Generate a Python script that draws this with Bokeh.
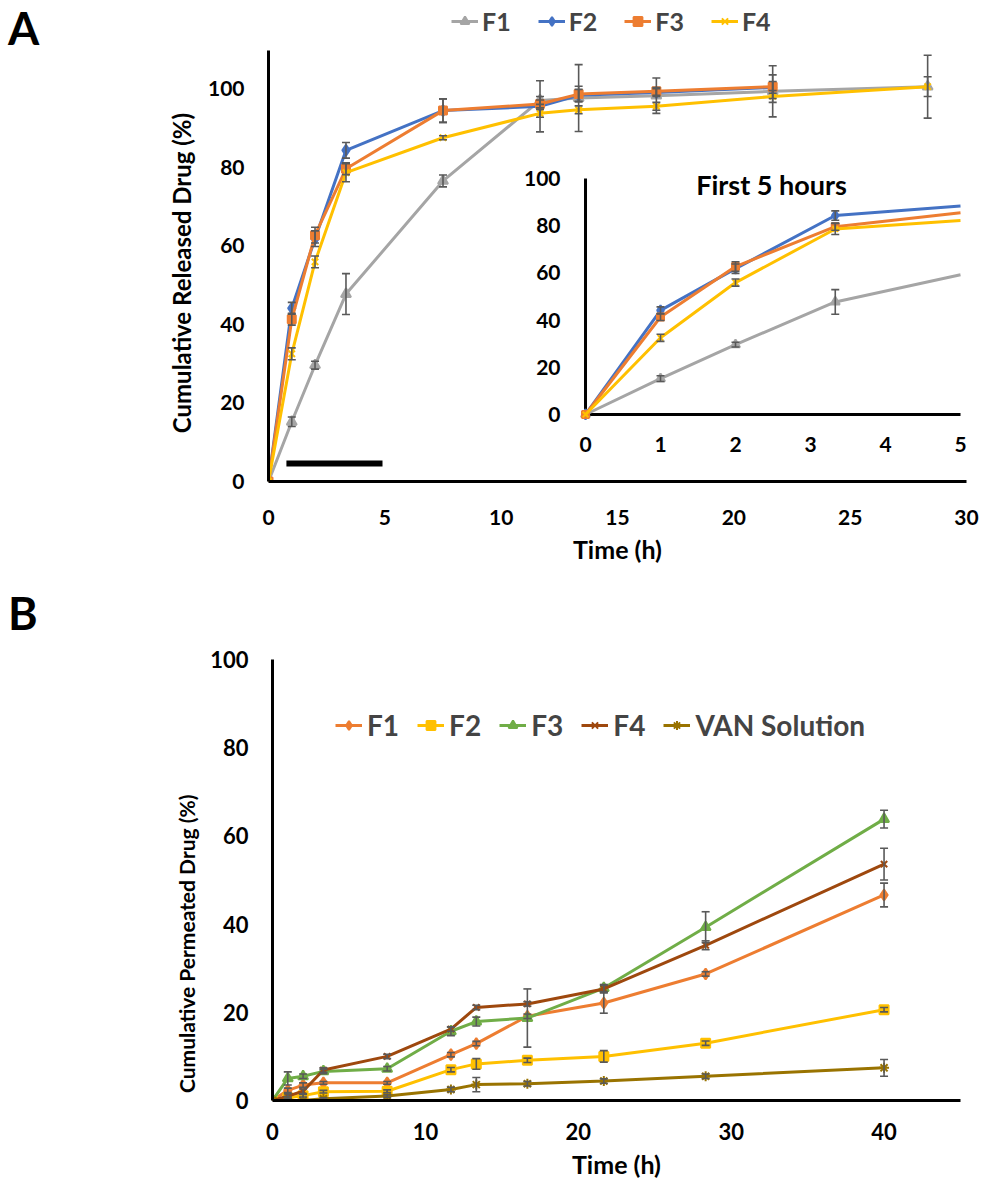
from bokeh.plotting import figure
from bokeh.models import Range1d, FixedTicker, Legend, LegendItem, Label, Div
from bokeh.layouts import column, row
from bokeh.embed import file_html
from bokeh.resources import INLINE
from bokeh.core.properties import value

FONT = "Lato"
NBSP = "\u00a0"

# ---------------- Panel A data (cumulative released drug, %) ----------------
time_A = [0, 1, 2, 3.33, 7.5, 11.67, 13.33, 16.67, 21.67, 28.33]
A_F1 = [0, 15.2, 29.6, 47.7, 76.5, 97.0, 97.6, 98.2, 99.3, 100.5]
A_F2 = [0, 44.1, 61.8, 84.3, 94.4, 95.5, 98.3, 99.0, 100.3]
A_F3 = [0, 41.3, 62.7, 79.6, 94.4, 96.1, 98.6, 99.3, 100.5]
A_F4 = [0, 32.5, 55.9, 78.6, 87.5, 93.7, 94.6, 95.5, 98.0, 100.5]
A_F1_err = [0, 1.2, 1.0, 5.2, 1.5, 1.0, 8.5, 4.5, 6.5, 2.5]
A_F2_err = [0, 1.5, 2.0, 2.0, 3.0, 6.5, 1.5, 1.0, 1.5]
A_F3_err = [0, 1.5, 2.0, 1.5, 3.0, 1.0, 2.0, 1.0, 3.0]
A_F4_err = [0, 1.5, 1.5, 2.3, 0.5, 1.0, 1.0, 1.0, 1.5, 8.0]
A_names = ["F1", "F2", "F3", "F4"]
A_xticks = [0, 5, 10, 15, 20, 25, 30]
A_yticks = [0, 20, 40, 60, 80, 100]
A_ymax = 109.7
inset_xticks = [0, 1, 2, 3, 4, 5]
inset_yticks = [0, 20, 40, 60, 80, 100]
zoom_bar_x = [0.77, 4.9]
zoom_bar_y = 4.6

# ---------------- Panel B data (cumulative permeated drug, %) ----------------
time_B = [0, 1, 2, 3.33, 7.5, 11.67, 13.33, 16.67, 21.67, 28.33, 40]
B_F1 = [0, 2.3, 3.5, 4.0, 4.0, 10.4, 12.9, 19.1, 22.1, 28.7, 46.6]
B_F2 = [0, 0.6, 1.1, 2.0, 2.1, 7.0, 8.3, 9.1, 10.0, 13.0, 20.6]
B_F3 = [0, 5.0, 5.5, 6.6, 7.2, 15.7, 17.9, 18.7, 25.5, 39.3, 63.8]
B_F4 = [0, 1.0, 2.1, 6.9, 10.0, 16.2, 21.1, 21.9, 25.3, 35.2, 53.6]
B_VAN = [0, 0, 0, 0.4, 1.0, 2.5, 3.6, 3.8, 4.4, 5.5, 7.4]
B_F1_err = [0, 0.5, 0.5, 0.3, 0.3, 0.5, 0.5, 0.5, 2.3, 0.5, 2.7]
B_F2_err = [0, 0.3, 0.3, 0.3, 0.3, 0.5, 1.2, 0.5, 1.3, 0.5, 0.5]
B_F3_err = [0, 1.5, 0.5, 0.5, 0.5, 1.0, 1.0, 6.6, 0.8, 3.5, 2.0]
B_F4_err = [0, 0.5, 0.5, 0.5, 0.5, 0.5, 0.5, 0.5, 0.8, 1.0, 3.6]
B_VAN_err = [0, 0.2, 0.2, 0.2, 0.3, 0.5, 1.6, 0.5, 0.5, 0.5, 1.9]
B_names = ["F1", "F2", "F3", "F4", "VAN Solution"]
B_xticks = [0, 10, 20, 30, 40]
B_yticks = [0, 20, 40, 60, 80, 100]

ERR = "#595959"


def style_axes(p, tick_size, title_size, tick_standoff_x, tick_standoff_y, title_standoff):
    for ax in (p.xaxis[0], p.yaxis[0]):
        ax.axis_line_width = 3
        ax.axis_line_color = "black"
        ax.major_tick_line_color = None
        ax.minor_tick_line_color = None
        ax.major_tick_out = 0
        ax.major_tick_in = 0
        ax.major_label_text_font = FONT
        ax.major_label_text_font_style = "bold"
        ax.major_label_text_font_size = tick_size
        ax.major_label_text_color = "black"
        ax.axis_label_text_font = FONT
        ax.axis_label_text_font_style = "bold"
        ax.axis_label_text_font_size = title_size
        ax.axis_label_text_color = "black"
        ax.axis_label_standoff = title_standoff
    p.xaxis[0].major_label_standoff = tick_standoff_x
    p.yaxis[0].major_label_standoff = tick_standoff_y
    p.xgrid.visible = False
    p.ygrid.visible = False
    p.outline_line_color = None


def draw_series(p, x, y, color, marker, size, xr="default", yr="default"):
    rl = p.line(x, y, line_color=color, line_width=3, x_range_name=xr, y_range_name=yr)
    rm = p.scatter(x, y, marker=marker, size=size, fill_color=color, line_color=color,
                   line_width=2, x_range_name=xr, y_range_name=yr)
    return [rl, rm]


def draw_err(p, x, y, err, xr="default", yr="default"):
    xs = [a for a, e in zip(x, err) if e > 0]
    lo = [b - e for b, e in zip(y, err) if e > 0]
    hi = [b + e for b, e in zip(y, err) if e > 0]
    p.segment(x0=xs, y0=lo, x1=xs, y1=hi, line_color=ERR, line_width=1.6,
              x_range_name=xr, y_range_name=yr)
    for ys in (lo, hi):
        p.scatter(xs, ys, marker="dash", size=8, line_color=ERR, line_width=1.6,
                  x_range_name=xr, y_range_name=yr)


def clip_to(x, y, xmax):
    xs, ys = [], []
    for i in range(len(x)):
        if x[i] <= xmax:
            xs.append(x[i]); ys.append(y[i])
        else:
            x0, y0 = x[i - 1], y[i - 1]
            f = (xmax - x0) / (x[i] - x0)
            xs.append(xmax); ys.append(y0 + f * (y[i] - y0))
            break
    return xs, ys


def panel_letter(letter, top):
    return Div(text=('<div style="font-family:Lato;font-weight:bold;font-size:45px;'
                     'line-height:54px;color:black;margin-top:%dpx;margin-left:8px;">%s</div>'
                     % (top, letter)),
               width=40, height=64, margin=(0, 0, 0, 0))


# ================= Panel A =================
A_frame_top_px = 50.0
A_frame_h = 481.0
A_yend = A_ymax * A_frame_h / (A_frame_h - A_frame_top_px)

pA = figure(width=946, height=579, output_backend="svg", toolbar_location=None,
            x_range=Range1d(0, 30), y_range=Range1d(0, A_yend),
            min_border_left=228, min_border_right=20, min_border_top=0, min_border_bottom=98,
            x_axis_label="Time (h)",
            y_axis_label="Cumulative Released Drug (%)" + NBSP * 11)
pA.xaxis.ticker = FixedTicker(ticks=A_xticks)
pA.yaxis.ticker = FixedTicker(ticks=A_yticks)
pA.yaxis.bounds = (0, A_ymax)
style_axes(pA, "21px", "24px", 28, 24, 9)
pA.xaxis.axis_label_text_font_size = "25px"
pA.xaxis.axis_label_standoff = 6

pA.extra_x_ranges = {"inset": Range1d(-4.227, 5.08)}
pA.extra_y_ranges = {"inset": Range1d(-28.39, 175.42)}

A_series = [
    (A_F1, A_F1_err, "#A5A5A5", "triangle", 10),
    (A_F2, A_F2_err, "#4472C4", "diamond", 11),
    (A_F3, A_F3_err, "#ED7D31", "square", 8),
    (A_F4, A_F4_err, "#FFC000", "x", 9),
]
A_items = []
for name, (ys, er, col, mk, sz) in zip(A_names, A_series):
    rs = draw_series(pA, time_A[:len(ys)], ys, col, mk, sz)
    A_items.append(LegendItem(label=name, renderers=rs))
for ys, er, col, mk, sz in A_series:
    draw_err(pA, time_A[:len(ys)], ys, er)

# indicator bar for the zoomed window
pA.line(zoom_bar_x, [zoom_bar_y, zoom_bar_y], line_color="black", line_width=6)

# inset (first 5 hours)
xmax_in = max(inset_xticks)
pA.segment(x0=[0, 0], y0=[0, 0], x1=[0, xmax_in], y1=[max(inset_yticks), 0],
           line_color="black", line_width=3, x_range_name="inset", y_range_name="inset")
for ys, er, col, mk, sz in A_series:
    xs_full = time_A[:len(ys)]
    cx, cy = clip_to(xs_full, ys, xmax_in)
    pA.line(cx, cy, line_color=col, line_width=3, x_range_name="inset", y_range_name="inset")
    px = [a for a in xs_full if a <= xmax_in]
    pA.scatter(px, ys[:len(px)], marker=mk, size=sz - 1, fill_color=col, line_color=col,
               line_width=2, x_range_name="inset", y_range_name="inset")
for ys, er, col, mk, sz in A_series:
    xs_full = time_A[:len(ys)]
    px = [a for a in xs_full if a <= xmax_in]
    draw_err(pA, px, ys[:len(px)], er[:len(px)], "inset", "inset")

pA.text(x=inset_xticks, y=[0] * len(inset_xticks), text=[str(t) for t in inset_xticks],
        text_align="center", text_baseline="middle", y_offset=30,
        text_font=value(FONT), text_font_style="bold", text_font_size="21px", text_color="black",
        x_range_name="inset", y_range_name="inset")
pA.text(x=[0] * len(inset_yticks), y=inset_yticks, text=[str(t) for t in inset_yticks],
        text_align="right", text_baseline="middle", x_offset=-25,
        text_font=value(FONT), text_font_style="bold", text_font_size="21px", text_color="black",
        x_range_name="inset", y_range_name="inset")
pA.add_layout(Label(x=503, y=297, x_units="screen", y_units="screen", text="First 5 hours",
                    text_align="center", text_baseline="middle", text_font=FONT,
                    text_font_style="bold", text_font_size="27px", text_color="black"))

legA = Legend(items=A_items, orientation="horizontal", location=(183, 445),
              label_text_font=FONT, label_text_font_style="bold", label_text_font_size="25px",
              glyph_width=27, glyph_height=22, label_standoff=4, spacing=27, padding=0, margin=0,
              background_fill_alpha=0, border_line_color=None)
pA.add_layout(legA)

# ================= Panel B =================
pB = figure(width=946, height=605, output_backend="svg", toolbar_location=None,
            x_range=Range1d(0, 45), y_range=Range1d(0, 100),
            min_border_left=232, min_border_right=26, min_border_top=80, min_border_bottom=84,
            x_axis_label="Time (h)",
            y_axis_label="Cumulative Permeated Drug (%)" + NBSP * 25)
pB.xaxis.ticker = FixedTicker(ticks=B_xticks)
pB.yaxis.ticker = FixedTicker(ticks=B_yticks)
style_axes(pB, "22px", "21px", 22, 24, 8)
pB.xaxis.axis_label_text_font_size = "25px"
pB.xaxis.axis_label_standoff = 6

B_series = [
    (B_F1, B_F1_err, "#ED7D31", "diamond", 11),
    (B_F2, B_F2_err, "#FFC000", "square", 9),
    (B_F3, B_F3_err, "#70AD47", "triangle", 10),
    (B_F4, B_F4_err, "#9E480E", "x", 9),
    (B_VAN, B_VAN_err, "#997300", "asterisk", 10),
]
B_items = []
for name, (ys, er, col, mk, sz) in zip(B_names, B_series):
    rs = draw_series(pB, time_B, ys, col, mk, sz)
    B_items.append(LegendItem(label=name, renderers=rs))
for ys, er, col, mk, sz in B_series:
    draw_err(pB, time_B, ys, er)

legB = Legend(items=B_items, orientation="horizontal", location=(63, 358),
              label_text_font=FONT, label_text_font_style="bold", label_text_font_size="28px",
              glyph_width=27, glyph_height=22, label_standoff=5, spacing=18, padding=0, margin=0,
              background_fill_alpha=0, border_line_color=None)
pB.add_layout(legB)

layout = column(row(panel_letter("A", 1), pA, spacing=0),
                row(panel_letter("B", 7), pB, spacing=0), spacing=0)
open("out.html", "w").write(file_html(layout, INLINE))
